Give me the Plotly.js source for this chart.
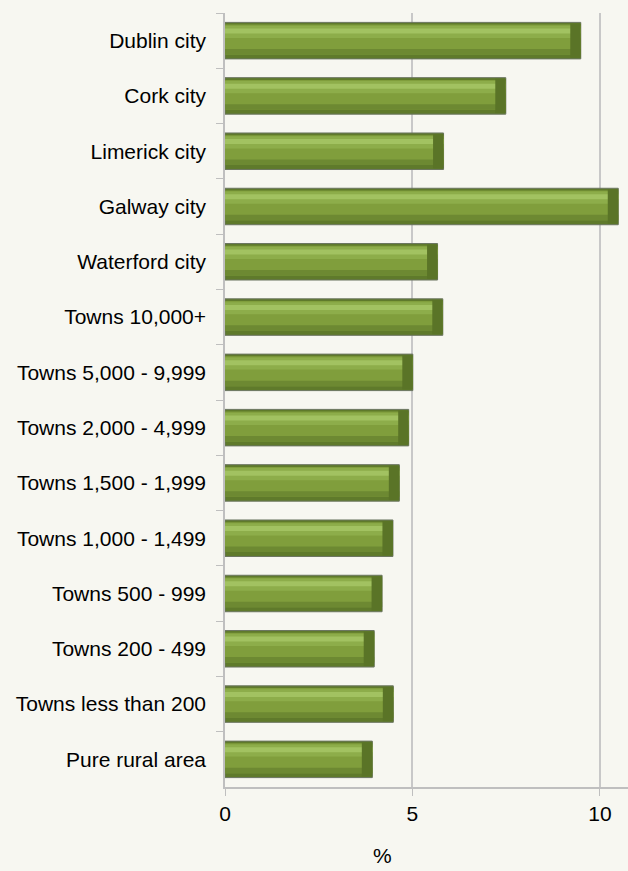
<!DOCTYPE html>
<html>
<head>
<meta charset="utf-8">
<script src="https://cdn.plot.ly/plotly-3.0.1.min.js"></script>
<style>
  html, body { margin: 0; padding: 0; background: #f7f7f1; }
  #chart { width: 628px; height: 871px; }
</style>
</head>
<body>
<div id="chart"></div>
<script>
// share of population, by area type (%)
const categories = [
    'Dublin city', 'Cork city', 'Limerick city', 'Galway city', 'Waterford city',
    'Towns 10,000+', 'Towns 5,000 - 9,999', 'Towns 2,000 - 4,999',
    'Towns 1,500 - 1,999', 'Towns 1,000 - 1,499', 'Towns 500 - 999',
    'Towns 200 - 499', 'Towns less than 200', 'Pure rural area'
];
const values = [9.49, 7.49, 5.83, 10.49, 5.67, 5.81, 5.01, 4.90, 4.65, 4.48, 4.19, 3.98, 4.49, 3.93];
const xTicks = [0, 5, 10];

const fontFamily = '"Liberation Sans", Arial, sans-serif';
const axisGrey = '#bfbfbf';

// bevelled bar look: stacked overlay layers
function layer(width, offset, color, extra) {
    return Object.assign({
        type: 'bar',
        orientation: 'h',
        y: categories,
        x: values,
        width: width,
        offset: offset,
        marker: { color: color, line: { width: 0 } },
        hoverinfo: 'skip',
        showlegend: false,
    }, extra || {});
}

const capLen = 0.28;
const traces = [
    layer(0.66, -0.33, '#5f7a2b', { marker: { color: '#5f7a2b', line: { color: '#6b7560', width: 1 } } }),
    layer(0.54, -0.29, '#809e3c'),
    layer(0.22, -0.27, '#8dad4a'),
    layer(0.09, -0.22, '#a2c261'),
    layer(0.10, 0.15, '#6d8932'),
    layer(0.62, -0.31, '#5a7427', {
        x: values.map(() => capLen),
        base: values.map(v => v - capLen),
        marker: { color: '#5a7427', line: { width: 0 } },
    }),
];

const layout = {
    width: 628,
    height: 871,
    paper_bgcolor: '#f7f7f1',
    plot_bgcolor: '#f7f7f1',
    font: { family: fontFamily, size: 21, color: '#000' },
    margin: { l: 225, r: 0, t: 13, b: 84 },
    barmode: 'overlay',
    xaxis: {
        range: [0, 10.75],
        tickvals: xTicks,
        ticks: 'outside',
        ticklen: 7,
        tickcolor: axisGrey,
        showline: true,
        linecolor: axisGrey,
        linewidth: 1.5,
        showgrid: true,
        gridcolor: '#c8c8c8',
        gridwidth: 1.5,
        zeroline: false,
        tickfont: { size: 21 },
    },
    yaxis: {
        type: 'category',
        autorange: 'reversed',
        showline: true,
        linecolor: axisGrey,
        linewidth: 1.5,
        ticks: 'outside',
        tickson: 'boundaries',
        ticklen: 7,
        tickcolor: axisGrey,
        showgrid: false,
        ticklabelstandoff: 13,
        tickfont: { size: 21 },
    },
    annotations: [{
        text: '%',
        xref: 'paper', yref: 'paper',
        x: 0.392, y: -0.088,
        xanchor: 'center', yanchor: 'middle',
        showarrow: false,
        font: { size: 21 },
    }],
};

Plotly.newPlot('chart', traces, layout, { displayModeBar: false, responsive: false });
</script>
</body>
</html>
